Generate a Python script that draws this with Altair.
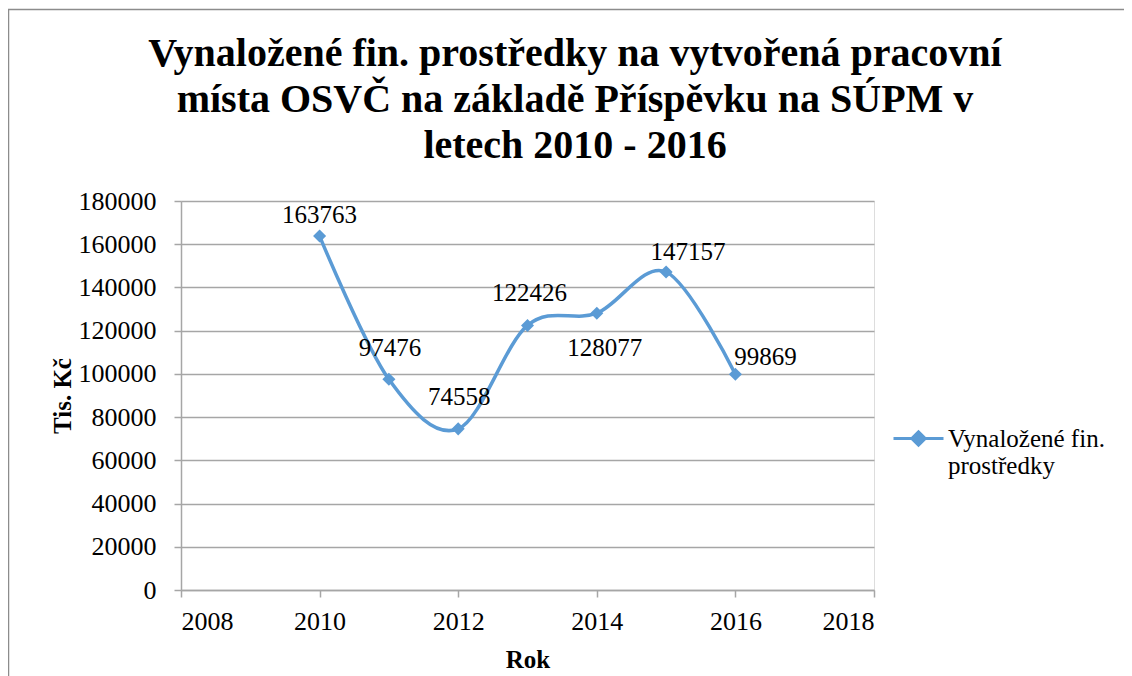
import altair as alt
import pandas as pd

# ---- data ----
years = [2010, 2011, 2012, 2013, 2014, 2015, 2016]
values = [163763, 97476, 74558, 122426, 128077, 147157, 99869]
series_name = "Vynaložené fin. prostředky"
legend_lines = ["Vynaložené fin.", "prostředky"]
title_lines = [
    "Vynaložené fin. prostředky na vytvořená pracovní",
    "místa OSVČ na základě Příspěvku na SÚPM v",
    "letech 2010 - 2016",
]
x_ticks = [2008, 2010, 2012, 2014, 2016, 2018]
y_ticks = [0, 20000, 40000, 60000, 80000, 100000, 120000, 140000, 160000, 180000]
x_title = "Rok"
y_title = "Tis. Kč"

df = pd.DataFrame({"Rok": years, "Value": values, "Series": [series_name] * len(years)})

FONT = "Liberation Serif"
COLOR = "#5B9BD5"
GRID = "#a6a6a6"
W, H = 693, 389

x_enc = alt.X(
    "Rok:Q",
    scale=alt.Scale(domain=[x_ticks[0], x_ticks[-1]], nice=False, zero=False),
    axis=alt.Axis(
        values=x_ticks, format="d", title=x_title, grid=False,
        labelFont=FONT, labelFontSize=26, labelColor="black", labelPadding=11,
        tickColor=GRID, tickSize=7, tickWidth=1.5, domainColor=GRID, domainWidth=1.5,
        titleFont=FONT, titleFontSize=25, titleFontWeight="bold", titleColor="black",
        titleBaseline="alphabetic", titleY=77,
    ),
)
y_enc = alt.Y(
    "Value:Q",
    scale=alt.Scale(domain=[y_ticks[0], y_ticks[-1]], nice=False),
    axis=alt.Axis(
        values=y_ticks, format="d", title=y_title, grid=True,
        gridColor=GRID, gridWidth=1.5,
        labelFont=FONT, labelFontSize=26, labelColor="black", labelPadding=18,
        tickColor=GRID, tickSize=7, tickWidth=1.5, domainColor=GRID, domainWidth=1.5,
        titleFont=FONT, titleFontSize=25, titleFontWeight="bold", titleColor="black",
        titleX=-119, titleY=H / 2, titleBaseline="middle", titleAlign="center", titleAngle=270,
    ),
)

leg_text = "[" + ", ".join("'" + s + "'" for s in legend_lines) + "]"
legend = alt.Legend(
    title=None, orient="none", legendX=711, legendY=211, padding=0,
    symbolType="M-1,0L1,0M-0.27,0L0,-0.27L0.27,0L0,0.27Z",
    symbolSize=2500, symbolStrokeWidth=3, symbolStrokeColor=COLOR, symbolFillColor=COLOR,
    labelFont=FONT, labelFontSize=25, labelColor="black", labelOffset=3,
    labelExpr=leg_text, labelLimit=400, labelBaseline="middle",
)
color_enc = alt.Color("Series:N", scale=alt.Scale(range=[COLOR]), legend=legend)

base = alt.Chart(df)
line = base.mark_line(interpolate="cardinal", strokeWidth=3.5).encode(x=x_enc, y=y_enc, color=color_enc)
points = base.mark_point(shape="diamond", filled=True, size=170, opacity=1).encode(
    x=x_enc, y=y_enc, color=alt.Color("Series:N", scale=alt.Scale(range=[COLOR]), legend=None)
)


def label(year, dx, dy):
    return base.transform_filter(alt.datum.Rok == year).mark_text(
        font=FONT, fontSize=25, color="black", dx=dx, dy=dy, baseline="middle", align="center"
    ).encode(x=x_enc, y=y_enc, text=alt.Text("Value:Q", format="d"))


labels = [
    label(2010, 0, -21),
    label(2011, 1, -31),
    label(2012, 1, -32),
    label(2013, 2, -32),
    label(2014, 8, 35),
    label(2015, 22, -20),
    label(2016, 30, -17),
]

one = pd.DataFrame({"f": [0]})
frame = alt.Chart(one).mark_rect(
    fill=None, stroke="#8c8c8c", strokeWidth=1.5
).encode(x=alt.value(-172.5), y=alt.value(-191.5), x2=alt.value(W + 300), y2=alt.value(H + 200))

title = alt.Chart(one).mark_text(
    text=title_lines, font=FONT, fontSize=40, fontWeight="bold", color="black",
    align="center", baseline="alphabetic", lineHeight=46,
).encode(x=alt.value(394), y=alt.value(-135))

chart = alt.layer(frame, title, line, points, *labels).properties(
    width=W,
    height=H,
    padding={"left": 173, "top": 193, "right": 250, "bottom": 86},
    autosize=alt.AutoSizeParams(type="none"),
).configure_view(stroke=None).configure(background="white")

chart.save("out.html", embed_options={"renderer": "svg", "actions": False})
